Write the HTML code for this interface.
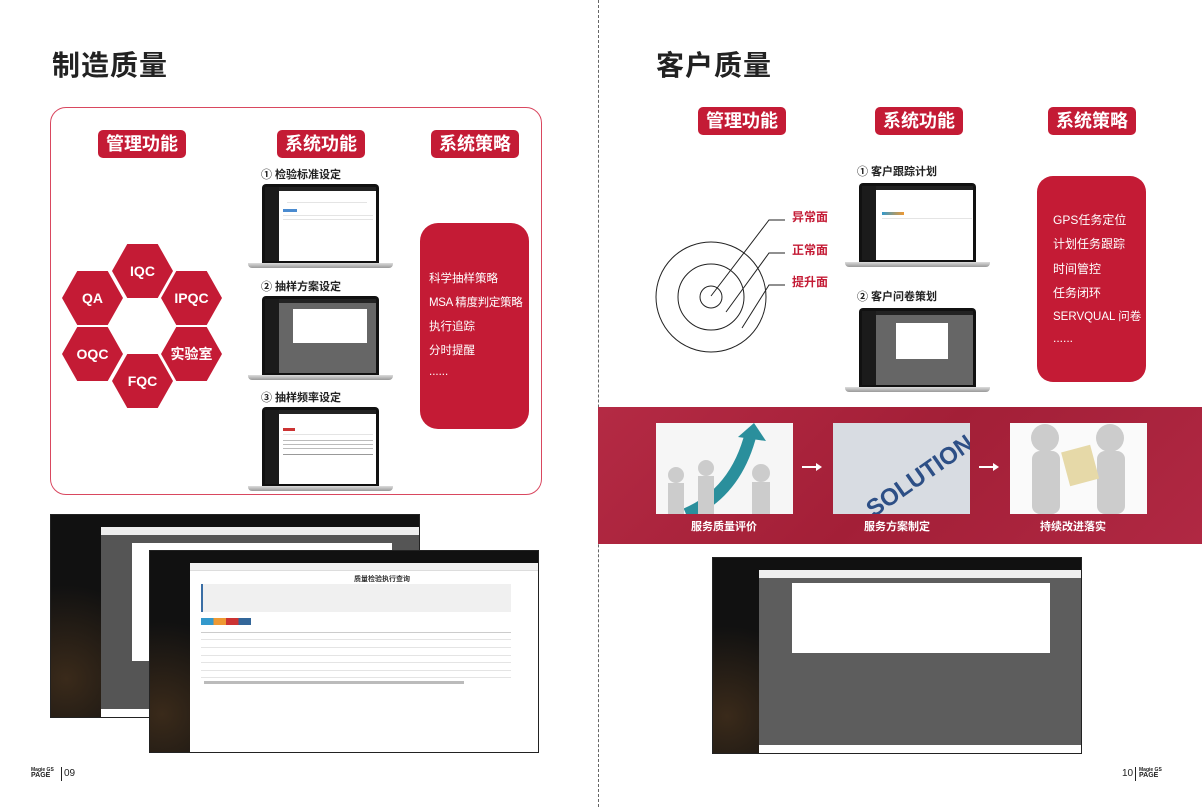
<!DOCTYPE html>
<html><head><meta charset="utf-8"><style>
*{margin:0;padding:0;box-sizing:border-box}
body{width:1202px;height:807px;background:#fff;position:relative;overflow:hidden;font-family:"Liberation Sans","Noto Sans CJK SC",sans-serif}
.a{position:absolute}
.title{font-size:28px;font-weight:bold;color:#222;letter-spacing:1px}
.lbl{position:absolute;background:#c41b35;color:#fff;font-weight:bold;font-size:18px;border-radius:5px;text-align:center;line-height:28px;width:88px;height:28px}
.hex{position:absolute;width:61px;height:54px;background:#c41b35;clip-path:polygon(25% 0,75% 0,100% 50%,75% 100%,25% 100%,0 50%);color:#fff;font-weight:bold;font-size:14px;text-align:center;line-height:54px}
.cap{position:absolute;font-size:11px;font-weight:bold;color:#222}
.lap{position:absolute;width:145px;height:85px}
.lap .bz{position:absolute;left:14px;top:0;width:117px;height:79px;background:#111;border-radius:4px 4px 0 0}
.lap .sc{position:absolute;left:3px;top:3px;right:3px;bottom:2px;background:#fff;overflow:hidden}
.lap .sb{position:absolute;left:0;top:0;bottom:0;width:14px;background:#1b1b1b}
.lap .tb{position:absolute;left:14px;right:0;top:0;height:4px;background:#222}
.lap .base{position:absolute;left:0;top:79px;width:145px;height:5px;background:linear-gradient(#ddd,#999);border-radius:0 0 4px 4px}
.red{position:absolute;background:#c41b35;color:#fff;font-size:12px}
.red div{position:absolute;left:0;white-space:nowrap}
.ss{position:absolute;background:#fff;border:1px solid #222;overflow:hidden}
.ss .top{position:absolute;left:0;right:0;top:0;height:12px;background:#111}
.ss .side{position:absolute;left:0;top:12px;bottom:0;width:50px;background:radial-gradient(circle at 30% 80%,#3a2a1a,#111 60%)}
.row{position:absolute;height:1px;background:#e4e4e4}
</style></head><body>

<div class="a" style="left:598px;top:0;height:807px;border-left:1px dashed #666"></div>

<div class="a title" style="left:52px;top:44px">制造质量</div>
<div class="a title" style="left:656px;top:44px">客户质量</div>

<div class="a" style="left:50px;top:107px;width:492px;height:388px;border:1.5px solid #d9475f;border-radius:16px"></div>
<div class="lbl" style="left:98px;top:130px">管理功能</div>
<div class="lbl" style="left:277px;top:130px">系统功能</div>
<div class="lbl" style="left:431px;top:130px">系统策略</div>

<div class="hex" style="left:112px;top:244px">IQC</div>
<div class="hex" style="left:62px;top:271px">QA</div>
<div class="hex" style="left:161px;top:271px">IPQC</div>
<div class="hex" style="left:62px;top:327px">OQC</div>
<div class="hex" style="left:161px;top:327px">实验室</div>
<div class="hex" style="left:112px;top:354px">FQC</div>

<div class="cap" style="left:261px;top:166px">① 检验标准设定</div>
<div class="lap" style="left:248px;top:184px"><div class="bz"><div class="sc"><div class="sb"></div><div class="tb"></div>
<div class="row" style="left:22px;top:15px;width:80px"></div><div class="a" style="left:18px;top:22px;width:14px;height:3px;background:#4a8bd0"></div><div class="row" style="left:18px;top:28px;width:90px"></div><div class="row" style="left:18px;top:32px;width:90px"></div></div></div><div class="base"></div></div>

<div class="cap" style="left:261px;top:278px">② 抽样方案设定</div>
<div class="lap" style="left:248px;top:296px"><div class="bz"><div class="sc" style="background:#666"><div class="sb"></div><div class="tb"></div>
<div class="a" style="left:28px;top:10px;width:74px;height:34px;background:#fff"></div></div></div><div class="base"></div></div>

<div class="cap" style="left:261px;top:389px">③ 抽样频率设定</div>
<div class="lap" style="left:248px;top:407px"><div class="bz"><div class="sc"><div class="sb"></div><div class="tb"></div>
<div class="a" style="left:18px;top:18px;width:12px;height:3px;background:#c33"></div><div class="row" style="left:18px;top:24px;width:90px"></div><div class="row" style="left:18px;top:30px;width:90px;background:#bbb"></div><div class="row" style="left:18px;top:34px;width:90px;background:#bbb"></div><div class="row" style="left:18px;top:38px;width:90px;background:#bbb"></div><div class="row" style="left:18px;top:44px;width:90px;background:#999"></div></div></div><div class="base"></div></div>

<div class="red" style="left:420px;top:223px;width:109px;height:206px;border-radius:18px;font-size:11.5px">
<div style="left:9px;top:47px">科学抽样策略</div>
<div style="left:9px;top:71px;letter-spacing:-0.3px">MSA 精度判定策略</div>
<div style="left:9px;top:95px">执行追踪</div>
<div style="left:9px;top:119px">分时提醒</div>
<div style="left:9px;top:143px">......</div>
</div>

<div class="ss" style="left:50px;top:514px;width:370px;height:204px;background:#555"><div class="top"></div><div class="side"></div>
<div class="a" style="left:50px;top:12px;right:0;height:8px;background:#eee"></div>
<div class="a" style="left:81px;top:28px;width:260px;height:118px;background:#fff"></div>
<div class="a" style="left:50px;bottom:0;right:0;height:8px;background:#fff"></div></div>
<div class="ss" style="left:149px;top:550px;width:390px;height:203px"><div class="top"></div><div class="side" style="width:40px"></div>
<div class="a" style="left:40px;top:12px;right:0;height:8px;background:#f2f2f2;border-bottom:1px solid #ddd"></div>
<div class="a" style="left:204px;top:23px;font-size:7px;font-weight:bold;color:#333">质量检验执行查询</div>
<div class="a" style="left:51px;top:33px;width:310px;height:28px;background:#f0f0f0;border-left:2px solid #3a6ea5"></div>
<div class="a" style="left:51px;top:67px;width:50px;height:7px;background:linear-gradient(90deg,#39c 0 25%,#e93 25% 50%,#c33 50% 75%,#369 75%)"></div>
<div class="row" style="left:51px;top:81px;width:310px;background:#ccc"></div>
<div class="row" style="left:51px;top:88px;width:310px"></div><div class="row" style="left:51px;top:96px;width:310px"></div><div class="row" style="left:51px;top:104px;width:310px"></div><div class="row" style="left:51px;top:111px;width:310px"></div><div class="row" style="left:51px;top:119px;width:310px"></div><div class="row" style="left:51px;top:126px;width:310px"></div>
<div class="a" style="left:54px;top:130px;width:260px;height:3px;background:#bbb"></div>
</div>

<div class="a" style="left:31px;top:768px;font-size:5px;font-weight:bold;line-height:5px;color:#222">Magie GS<br><span style="font-size:7px">PAGE</span></div>
<div class="a" style="left:61px;top:767px;height:14px;border-left:1.5px solid #222"></div>
<div class="a" style="left:64px;top:768px;font-size:10px;color:#222">09</div>

<div class="lbl" style="left:698px;top:107px">管理功能</div>
<div class="lbl" style="left:875px;top:107px">系统功能</div>
<div class="lbl" style="left:1048px;top:107px">系统策略</div>

<svg class="a" style="left:640px;top:200px" width="160" height="170">
<g fill="none" stroke="#222" stroke-width="1">
<circle cx="71" cy="97" r="55"/><circle cx="71" cy="97" r="33"/><circle cx="71" cy="97" r="11"/>
<polyline points="71,96 129,20 145,20"/><polyline points="86,112 129,53 145,53"/><polyline points="102,128 129,85 145,85"/>
</g></svg>
<div class="a" style="left:792px;top:208px;font-size:12px;font-weight:bold;color:#c41b35">异常面</div>
<div class="a" style="left:792px;top:241px;font-size:12px;font-weight:bold;color:#c41b35">正常面</div>
<div class="a" style="left:792px;top:273px;font-size:12px;font-weight:bold;color:#c41b35">提升面</div>

<div class="cap" style="left:857px;top:163px">① 客户跟踪计划</div>
<div class="lap" style="left:845px;top:183px"><div class="bz"><div class="sc"><div class="sb"></div><div class="tb"></div>
<div class="a" style="left:20px;top:26px;width:22px;height:3px;background:linear-gradient(90deg,#39c,#e93)"></div><div class="row" style="left:20px;top:32px;width:90px"></div></div></div><div class="base"></div></div>

<div class="cap" style="left:857px;top:288px">② 客户问卷策划</div>
<div class="lap" style="left:845px;top:308px"><div class="bz"><div class="sc" style="background:#666"><div class="sb"></div><div class="tb"></div>
<div class="a" style="left:34px;top:12px;width:52px;height:36px;background:#fff"></div></div></div><div class="base"></div></div>

<div class="red" style="left:1037px;top:176px;width:109px;height:206px;border-radius:16px">
<div style="left:16px;top:35px">GPS任务定位</div>
<div style="left:16px;top:59px">计划任务跟踪</div>
<div style="left:16px;top:84px">时间管控</div>
<div style="left:16px;top:108px">任务闭环</div>
<div style="left:16px;top:132px;font-size:11.5px">SERVQUAL 问卷</div>
<div style="left:16px;top:155px">......</div>
</div>

<div class="a" style="left:598px;top:407px;width:604px;height:137px;background:linear-gradient(135deg,#b42a44,#a31f37 50%,#b02843)"></div>
<svg class="a" style="left:656px;top:423px" width="137" height="91"><rect width="137" height="91" fill="#f6f6f6"/>
<path d="M30 91 Q80 70 95 10" stroke="#2a8f9c" stroke-width="12" fill="none"/><polygon points="82,14 98,0 110,18" fill="#2a8f9c"/>
<circle cx="20" cy="52" r="8" fill="#ccc"/><rect x="12" y="60" width="16" height="31" fill="#ccc"/>
<circle cx="50" cy="45" r="8" fill="#ccc"/><rect x="42" y="53" width="16" height="38" fill="#ccc"/>
<circle cx="105" cy="50" r="9" fill="#ccc"/><rect x="96" y="59" width="18" height="32" fill="#ccc"/></svg>
<svg class="a" style="left:833px;top:423px" width="137" height="91"><rect width="137" height="91" fill="#d8dce2"/>
<text x="20" y="70" transform="rotate(-35 70 50)" font-family="Liberation Sans" font-weight="bold" font-size="24" fill="#2d4f86">SOLUTION</text></svg>
<svg class="a" style="left:1010px;top:423px" width="137" height="91"><rect width="137" height="91" fill="#fafafa"/>
<circle cx="35" cy="15" r="14" fill="#ccc"/><rect x="22" y="28" width="28" height="63" rx="8" fill="#ccc"/>
<circle cx="100" cy="15" r="14" fill="#ccc"/><rect x="87" y="28" width="28" height="63" rx="8" fill="#ccc"/>
<rect x="55" y="25" width="30" height="35" fill="#e6d9a8" transform="rotate(-15 70 42)"/></svg>
<div class="a" style="left:802px;top:466px;width:16px;height:2px;background:#fff"></div><div class="a" style="left:816px;top:463px;border-left:6px solid #fff;border-top:4px solid transparent;border-bottom:4px solid transparent"></div>
<div class="a" style="left:979px;top:466px;width:16px;height:2px;background:#fff"></div><div class="a" style="left:993px;top:463px;border-left:6px solid #fff;border-top:4px solid transparent;border-bottom:4px solid transparent"></div>
<div class="a" style="left:691px;top:518px;font-size:11px;font-weight:bold;color:#fff">服务质量评价</div>
<div class="a" style="left:864px;top:518px;font-size:11px;font-weight:bold;color:#fff">服务方案制定</div>
<div class="a" style="left:1040px;top:518px;font-size:11px;font-weight:bold;color:#fff">持续改进落实</div>

<div class="ss" style="left:712px;top:557px;width:370px;height:197px;background:#5d5d5d"><div class="top"></div><div class="side" style="width:46px"></div>
<div class="a" style="left:46px;top:12px;right:0;height:8px;background:#eee"></div>
<div class="a" style="left:79px;top:25px;width:258px;height:70px;background:#fff"></div>
<div class="a" style="left:46px;bottom:0;right:0;height:8px;background:#fff"></div></div>

<div class="a" style="left:1122px;top:768px;font-size:10px;color:#222">10</div>
<div class="a" style="left:1135px;top:767px;height:14px;border-left:1.5px solid #222"></div>
<div class="a" style="left:1139px;top:768px;font-size:5px;font-weight:bold;line-height:5px;color:#222">Magie GS<br><span style="font-size:7px">PAGE</span></div>
</body></html>
